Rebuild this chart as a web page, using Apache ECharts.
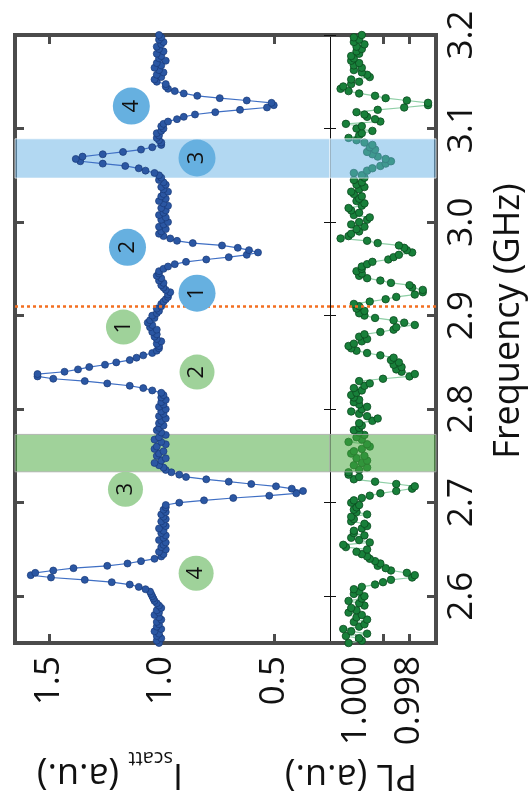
<!DOCTYPE html>
<html>
<head>
<meta charset="utf-8">
<script src="https://cdn.jsdelivr.net/npm/echarts@6/dist/echarts.min.js"></script>
<style>
  html, body { margin: 0; padding: 0; background: #fff; }
  #chart { width: 531px; height: 803px; }
</style>
</head>
<body>
<div id="chart"></div>
<script>
// frequency sweep (GHz), one sample every freqStep
const freqStart = 2.55;
const freqStep = 0.0025;

// scattering intensity, one value per frequency sample
const iscatt = [
  1.01, 1.02, 1.00, 1.02, 1.01, 1.03, 1.00, 1.02, 1.01, 1.02, 1.00, 1.01, 1.03, 1.01, 1.02, 1.00, 1.01,
  1.02, 1.03, 1.035, 1.04, 1.045, 1.05, 1.07, 1.10, 1.14, 1.22, 1.34, 1.49, 1.58, 1.56, 1.48, 1.39, 1.24, 1.15, 1.09, 1.03, 1.00,
  0.99, 1.01, 0.98, 1.00, 0.99, 0.98, 1.01, 0.99, 0.98, 1.00, 0.99, 1.01, 0.98, 0.99, 1.00, 0.98, 0.99, 1.00, 0.98, 0.99, 0.98,
  0.98, 0.92, 0.81, 0.68, 0.52, 0.40, 0.37, 0.42, 0.49, 0.60, 0.70, 0.80, 0.89, 0.92, 0.955, 0.98,
  0.99, 1.01, 1.03, 1.00, 0.98, 1.02, 1.01, 0.99, 1.03, 1.02, 0.98, 1.00, 1.03, 1.01, 0.98, 1.00,
  1.02, 1.01, 0.99, 1.01, 1.00, 0.98, 1.01, 0.99, 1.00, 0.98, 1.01, 0.99, 1.00, 0.98, 1.00, 0.99,
  1.00, 1.04, 1.08, 1.14, 1.24, 1.34, 1.48, 1.55, 1.55, 1.43, 1.37, 1.32, 1.25, 1.20, 1.14, 1.11, 1.08, 1.04, 1.02, 1.01,
  1.01, 1.02, 1.00, 1.02, 1.03, 1.02, 1.04, 1.02, 1.05, 1.04, 1.06, 1.05, 1.03, 1.04, 1.02, 1.01, 1.02,
  1.00, 1.00, 0.99, 0.98, 0.97, 0.97, 0.96, 0.98, 0.99, 1.00, 0.99, 1.01, 1.00, 1.02, 1.01, 1.01, 0.99,
  0.97, 0.94, 0.89, 0.80, 0.70, 0.62, 0.57, 0.61, 0.66, 0.73, 0.86, 0.93, 0.96, 0.99, 1.01,
  1.00, 0.98, 1.01, 0.99, 0.97, 1.00, 0.98, 1.01, 0.99, 0.98, 1.00, 0.97, 0.99, 1.01, 0.98, 1.00, 0.99, 0.97, 0.99, 1.00, 0.98, 0.99, 1.01, 1.00,
  1.01, 1.03, 1.07, 1.10, 1.16, 1.26, 1.36, 1.38, 1.35, 1.26, 1.17, 1.09, 1.04, 1.00, 1.00, 1.01, 1.02, 1.01, 1.02, 1.00, 0.99,
  1.00, 0.99, 0.97, 0.93, 0.90, 0.85, 0.76, 0.65, 0.53, 0.50, 0.51, 0.62, 0.74, 0.84, 0.90, 0.94, 0.97, 0.98, 0.98, 1.02,
  1.03, 1.00, 1.02, 0.99, 1.01, 1.03, 1.00, 1.02, 0.98, 1.01, 1.00, 1.02, 0.99, 1.01, 1.02, 1.00, 0.99, 1.01, 1.00, 1.01
];

// photoluminescence, same frequency samples
const pl = [
  1.0003, 0.9998, 0.9999, 1.0004, 0.9996, 1.0002, 1.0005, 0.9999, 0.9997, 1.0001, 0.9996, 1.0000, 0.9998, 1.0003, 1.0000, 1.0002, 0.9997, 0.9999, 1.0003, 0.9998, 0.9997, 1.0001,
  0.9999, 1.0001, 0.9998, 0.9993, 0.9990, 0.9987, 0.9979, 0.9978, 0.9981, 0.9987, 0.9989, 0.9992, 0.9991, 0.9993, 0.9995, 0.9996, 0.9998, 1.0000, 0.9996,
  1.0004, 1.0005, 0.9995, 0.9999, 1.0002, 0.9997, 1.0001, 1.0001, 0.9998, 0.9996, 0.9997, 1.0002, 1.0001, 1.0002, 0.9996, 1.0000, 1.0001, 1.0000,
  0.9999, 1.0002, 1.0001, 0.9998, 0.9995, 0.9991, 0.9985, 0.9979, 0.9978, 0.9985, 0.9993, 1.0001, 0.9999, 1.0003,
  1.0003, 0.9999, 0.9996, 1.0001, 0.9998, 0.9996, 1.0000, 0.9997, 1.0002, 1.0001, 0.9998, 0.9995, 0.9996, 1.0003, 0.9998, 1.0000, 0.9997,
  0.9999, 1.0001, 0.9999, 0.9998, 0.9999, 0.9994, 0.9992, 0.9996, 0.9999, 1.0002, 0.9998, 0.9996, 0.9999, 1.0001, 0.9999, 1.0001, 1.0002,
  1.0000, 0.9998, 1.0001, 0.9997, 0.9995, 0.9999, 0.9990, 0.9980, 0.9978, 0.9983, 0.9985, 0.9983, 0.9986, 0.9984, 0.9987, 0.9986, 0.9991,
  0.9996, 1.0000, 1.0002, 1.0003, 1.0001, 0.9998, 0.9996, 0.9999,
  0.9997, 0.9991, 0.9986, 0.9985, 0.9978, 0.9982, 0.9986, 0.9993, 0.9997, 0.9999, 0.9997, 1.0000, 0.9999, 1.0001,
  0.9995, 0.9989, 0.9985, 0.9978, 0.9975, 0.9975, 0.9979, 0.9980, 0.9987, 0.9991, 0.9996, 0.9999, 0.9998, 1.0000, 0.9998,
  0.9998, 0.9996, 0.9994, 0.9988, 0.9986, 0.9984, 0.9979, 0.9981, 0.9982, 0.9984, 0.9992, 0.9996, 1.0006, 1.0003, 1.0002, 0.9999,
  1.0000, 0.9997, 1.0002, 0.9999, 0.9996, 0.9995, 1.0001, 0.9999, 1.0002, 1.0003, 0.9998, 0.9997, 1.0000, 0.9999, 0.9998, 1.0001,
  1.0002, 0.9999, 0.9997, 1.0000, 0.9998, 1.0001, 0.9997,
  0.9998, 1.0001, 0.9996, 0.9994, 0.9991, 0.9989, 0.9987, 0.9989, 0.9992, 0.9994, 0.9996, 0.9993, 0.9995, 0.9994, 0.9997, 1.0000, 1.0003, 0.9999,
  0.9998, 0.9994, 1.0000, 0.9998, 1.0004, 0.9991, 0.9993, 0.9996, 0.9997, 1.0000, 0.9992, 0.9982, 0.9973, 0.9973, 0.9981, 0.9989,
  0.9993, 0.9999, 1.0003, 1.0006, 1.0005, 1.0002, 0.9999, 1.0002, 0.9995, 0.9996, 0.9998, 1.0001, 0.9998, 1.0001, 0.9999, 1.0002,
  1.0001, 1.0002, 0.9999, 1.0000, 0.9998, 1.0000, 0.9997, 1.0001, 0.9999, 1.0001, 0.9998
];

// tick values
const freqTicks = [2.6, 2.7, 2.8, 2.9, 3.0, 3.1, 3.2];
const iscattTicks = [0.5, 1.0, 1.5];
const plTicks = [0.998, 0.999, 1.0];
const plLabels = [0.998, 1.0];

// highlighted frequency bands and the marker line
const blueBand = [3.047, 3.089];
const greenBand = [2.733, 2.773];
const markerFreq = 2.909;

// numbered circles: [Iscatt position, frequency, label]
const blueMarks = [[1.133, 3.124, '4'], [0.841, 3.0685, '3'], [1.15, 2.973, '2'], [0.841, 2.924, '1']];
const greenMarks = [[1.168, 2.8877, '1'], [0.841, 2.8396, '2'], [1.159, 2.7144, '3'], [0.845, 2.6246, '4']];

const FONT = '"Open Sans", "Noto Sans", sans-serif';
const frameColor = '#4b4b4b';

const freqs = iscatt.map((v, i) => +(freqStart + i * freqStep).toFixed(4));

let myChart = echarts.init(document.getElementById('chart'));

// outer frame axis (thick grey with inner ticks)
function frameAxis(extra) {
  return Object.assign({
    type: 'value',
    axisLine: { show: true, onZero: false, lineStyle: { color: frameColor, width: 4, cap: 'square' } },
    axisTick: { show: true, inside: true, length: 9, lineStyle: { color: frameColor, width: 3 } },
    axisLabel: { show: false },
    splitLine: { show: false }
  }, extra);
}

// thin black divider between the two panels
function dividerAxis(extra) {
  return Object.assign({
    type: 'value',
    axisLine: { show: true, onZero: false, lineStyle: { color: '#111', width: 1 } },
    axisTick: { show: true, inside: true, length: 6, lineStyle: { color: '#111', width: 1 }, customValues: freqTicks },
    axisLabel: { show: false },
    splitLine: { show: false }
  }, extra);
}

function frameTicks(values) {
  return { show: true, inside: true, length: 9, lineStyle: { color: frameColor, width: 3 }, customValues: values };
}

const tickLabel = {
  show: true, rotate: 90, fontSize: 35, fontFamily: FONT, color: '#111'
};

function bandArea(z) {
  return {
    silent: true,
    z: z,
    data: [
      [{ yAxis: blueBand[0], itemStyle: { color: 'rgba(102,178,230,0.5)', borderColor: 'rgba(255,255,255,0.7)', borderWidth: 1 } }, { yAxis: blueBand[1] }],
      [{ yAxis: greenBand[0], itemStyle: { color: 'rgba(72,168,62,0.52)', borderColor: 'rgba(170,170,170,0.8)', borderWidth: 1 } }, { yAxis: greenBand[1] }]
    ]
  };
}

const orangeLine = {
  silent: true,
  symbol: 'none',
  label: { show: false },
  lineStyle: { color: '#f36f21', width: 2.5, type: [3, 3] },
  data: [{ yAxis: markerFreq }]
};

function circleLabel() {
  return {
    show: true, position: 'inside', rotate: 90,
    formatter: p => p.data[2],
    fontSize: 22, fontFamily: FONT, color: '#111'
  };
}

var option = {
  animation: false,
  backgroundColor: '#fff',
  textStyle: { fontFamily: FONT },
  grid: [
    { left: 15, top: 35, width: 315, height: 608 },
    { left: 330, top: 35, width: 106, height: 608 }
  ],
  xAxis: [
    frameAxis({
      gridIndex: 0, position: 'bottom', inverse: true, min: 0.25, max: 1.65,
      axisTick: frameTicks(iscattTicks),
      axisLabel: Object.assign({}, tickLabel, { margin: 13, customValues: iscattTicks, formatter: v => v.toFixed(1) })
    }),
    frameAxis({ gridIndex: 0, position: 'top', inverse: true, min: 0.25, max: 1.65, axisTick: frameTicks(iscattTicks) }),
    frameAxis({
      gridIndex: 1, position: 'bottom', inverse: true, min: 0.997, max: 1.001,
      axisTick: frameTicks(plTicks),
      axisLabel: Object.assign({}, tickLabel, { margin: 13, customValues: plLabels, formatter: v => v.toFixed(3) })
    }),
    frameAxis({ gridIndex: 1, position: 'top', inverse: true, min: 0.997, max: 1.001, axisTick: frameTicks(plTicks) })
  ],
  yAxis: [
    frameAxis({ gridIndex: 0, position: 'left', min: 2.55, max: 3.2, axisTick: frameTicks(freqTicks) }),
    dividerAxis({ gridIndex: 0, position: 'right', min: 2.55, max: 3.2 }),
    dividerAxis({ gridIndex: 1, position: 'left', min: 2.55, max: 3.2, axisLine: { show: false } }),
    frameAxis({
      gridIndex: 1, position: 'right', min: 2.55, max: 3.2,
      axisTick: frameTicks(freqTicks),
      axisLabel: Object.assign({}, tickLabel, { margin: 9, customValues: freqTicks, formatter: v => v.toFixed(1) })
    })
  ],
  series: [
    {
      name: 'Iscatt',
      type: 'line',
      xAxisIndex: 0,
      yAxisIndex: 0,
      data: iscatt.map((v, i) => [v, freqs[i]]),
      symbol: 'circle',
      symbolSize: 7,
      lineStyle: { color: '#3f6fc4', width: 1.2 },
      itemStyle: { color: '#2b57a3', borderColor: '#183a78', borderWidth: 0.7 },
      markArea: bandArea(1),
      markLine: orangeLine,
      z: 3
    },
    {
      name: 'PL',
      type: 'line',
      xAxisIndex: 2,
      yAxisIndex: 3,
      data: pl.map((v, i) => [v, freqs[i]]),
      symbol: 'circle',
      symbolSize: 7.5,
      lineStyle: { color: '#8fcfa6', width: 1.2 },
      itemStyle: { color: '#18803a', borderColor: '#0b4a1f', borderWidth: 0.8 },
      // bands lie over the PL points, tinting them
      markArea: bandArea(4),
      markLine: orangeLine,
      z: 3
    },
    {
      name: 'blue marks',
      type: 'scatter',
      xAxisIndex: 0,
      yAxisIndex: 0,
      data: blueMarks,
      symbolSize: 37,
      itemStyle: { color: '#66b0e0', opacity: 1 },
      label: circleLabel(),
      z: 6
    },
    {
      name: 'green marks',
      type: 'scatter',
      xAxisIndex: 0,
      yAxisIndex: 0,
      data: greenMarks,
      symbolSize: 35,
      itemStyle: { color: '#9fd29a', opacity: 1 },
      label: circleLabel(),
      z: 6
    }
  ],
  graphic: [
    {
      type: 'text', x: 509, y: 321, rotation: Math.PI / 2,
      style: { text: 'Frequency (GHz)', fontSize: 36, fontFamily: FONT, fill: '#111', align: 'center', verticalAlign: 'middle' }
    },
    {
      // upside-down axis title with subscript
      type: 'text', x: 183, y: 772, rotation: Math.PI,
      style: {
        text: '{m|I}{s|scatt}{m| (a.u.)}',
        align: 'left', verticalAlign: 'middle', fill: '#111',
        rich: {
          m: { fontSize: 36, fontFamily: FONT, lineHeight: 40, verticalAlign: 'top', fill: '#111' },
          s: { fontSize: 20, fontFamily: FONT, lineHeight: 20, padding: [24, 0, 0, 0], verticalAlign: 'top', fill: '#111' }
        }
      }
    },
    {
      type: 'text', x: 417, y: 775, rotation: Math.PI,
      style: { text: 'PL (a.u.)', fontSize: 36, fontFamily: FONT, fill: '#111', align: 'left', verticalAlign: 'middle' }
    }
  ]
};

myChart.setOption(option);
</script>
</body>
</html>
